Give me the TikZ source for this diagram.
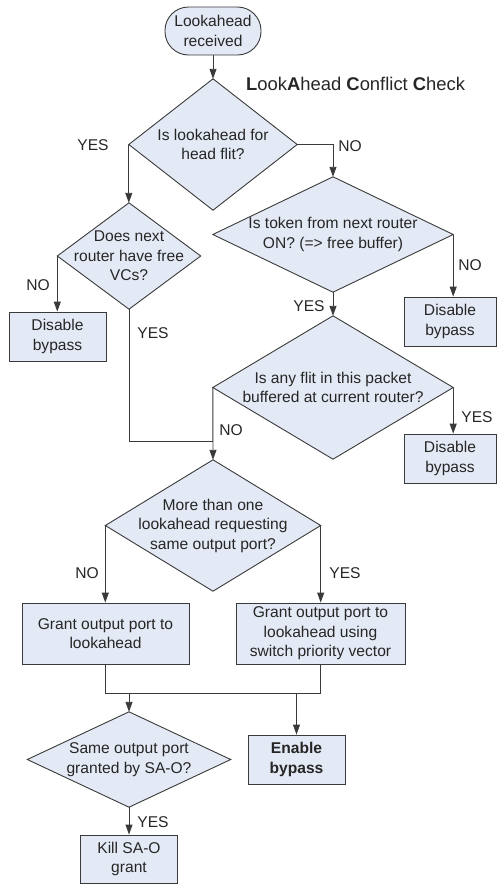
\documentclass[tikz,border=0pt]{standalone}
\usepackage{fontspec}
\setmainfont{Liberation Sans}
\usetikzlibrary{arrows.meta,backgrounds,calc}
\definecolor{boxfill}{HTML}{E4EAF5}
\definecolor{edge}{HTML}{3A3A3A}
\begin{document}
\begin{tikzpicture}[x=1pt,y=-1pt,
  every node/.style={font=\fontsize{15.6}{19.5}\selectfont, text=black!85},
  txt/.style={inner sep=0pt, align=center},
  boxn/.style={draw=edge, fill=boxfill, line width=0.9pt, inner sep=0pt, align=center},
  dnode/.style={rectangle, inner sep=0pt, align=center},
  diashape/.style={draw=edge, fill=boxfill, line width=0.9pt, line join=miter},
  conn/.style={draw=edge, line width=0.9pt},
  arr/.style={conn, -{Triangle[length=10pt,width=7pt]}},
  lbl/.style={inner sep=0pt}
]
\useasboundingbox (0,0) rectangle (497,884);

% start
\node[boxn, rounded corners=23.5pt, minimum width=96pt, minimum height=48pt] (start) at (213,31) {Lookahead\\received};
\node[lbl, anchor=west, font=\fontsize{18.4}{21}\selectfont] (title) at (246,84) {\textbf{L}ook\textbf{A}head \textbf{C}onflict \textbf{C}heck};

% decision nodes (text holders)
\node[dnode, minimum width=168pt, minimum height=131pt] (d1) at (213,144.5) {Is lookahead for\\head flit?};
\node[dnode, minimum width=143pt, minimum height=106pt] (d2) at (129,256) {Does next\\router have free\\VCs?};
\node[dnode, minimum width=240pt, minimum height=115pt] (d3) at (333,234.5) {Is token from next router\\ON? (=> free buffer)};
\node[dnode, minimum width=240pt, minimum height=143pt] (d5) at (333,387.5) {Is any flit in this packet\\buffered at current router?};
\node[dnode, minimum width=215pt, minimum height=131pt] (d4) at (213,525.5) {More than one\\lookahead requesting\\same output port?};
\node[dnode, minimum width=203pt, minimum height=95pt] (d6) at (129,759.5) {Same output port\\granted by SA-O?};

\begin{scope}[on background layer]
  \foreach \d in {d1,d2,d3,d5,d4,d6}{
    \path[diashape] (\d.north) -- (\d.east) -- (\d.south) -- (\d.west) -- cycle;
  }
\end{scope}

% boxes
\node[boxn, minimum width=97pt, minimum height=49pt] (b1) at (57.5,336.5) {Disable\\bypass};
\node[boxn, minimum width=92pt, minimum height=49pt] (b2) at (450,321.5) {Disable\\bypass};
\node[boxn, minimum width=92pt, minimum height=49pt] (b3) at (450,458.5) {Disable\\bypass};
\node[boxn, minimum width=167pt, minimum height=61pt] (b4) at (105.5,633.5) {Grant output port to\\lookahead};
\node[boxn, minimum width=169pt, minimum height=61pt] (b5) at (320.5,633.5) {Grant output port to\\lookahead using\\switch priority vector};
\node[boxn, minimum width=97pt, minimum height=49pt] (b6) at (296.5,759.5) {\textbf{Enable}\\\textbf{bypass}};
\node[boxn, minimum width=97pt, minimum height=48pt] (b7) at (129,859) {Kill SA-O\\grant};

% junction coordinates
\coordinate (j1) at ($(d4.north)+(0,-18)$);
\coordinate (j2) at (105.5,693);
\coordinate (j3) at (320.5,693);

% connectors
\draw[arr] (start.south) -- (d1.north);
\draw[arr] (d1.west) -- (d1.west |- d2.north);
\draw[arr] (d1.east) -| (d3.north);
\draw[arr] (d2.west) -- (d2.west |- b1.north);
\draw[conn] (d2.south) |- (j1);
\draw[arr] (d5.west) -- (d4.north);
\draw[arr] (d3.east) -- (d3.east |- b2.north);
\draw[arr] (d3.south) -- (d5.north);
\draw[arr] (d5.east) -- (d5.east |- b3.north);
\draw[arr] (d4.west) -- (d4.west |- b4.north);
\draw[arr] (d4.east) -- (d4.east |- b5.north);
\draw[conn] (b4.south) -- (j2) -- (j3) -- (b5.south);
\draw[arr] (d6.north |- j2) -- (d6.north);
\draw[arr] (b6.north |- j2) -- (b6.north);
\draw[arr] (d6.south) -- (b7.north);

% labels
\node[lbl] (l1) at (93,145) {YES};
\node[lbl] (l2) at (350,146) {NO};
\node[lbl] (l3) at (38,285) {NO};
\node[lbl] (l4) at (153,333) {YES};
\node[lbl] (l5) at (470,265) {NO};
\node[lbl] (l6) at (309,306) {YES};
\node[lbl] (l7) at (477,417) {YES};
\node[lbl] (l8) at (231,430) {NO};
\node[lbl] (l9) at (87,573) {NO};
\node[lbl] (l10) at (345,573) {YES};
\node[lbl] (l11) at (153,822) {YES};
\end{tikzpicture}
\end{document}
